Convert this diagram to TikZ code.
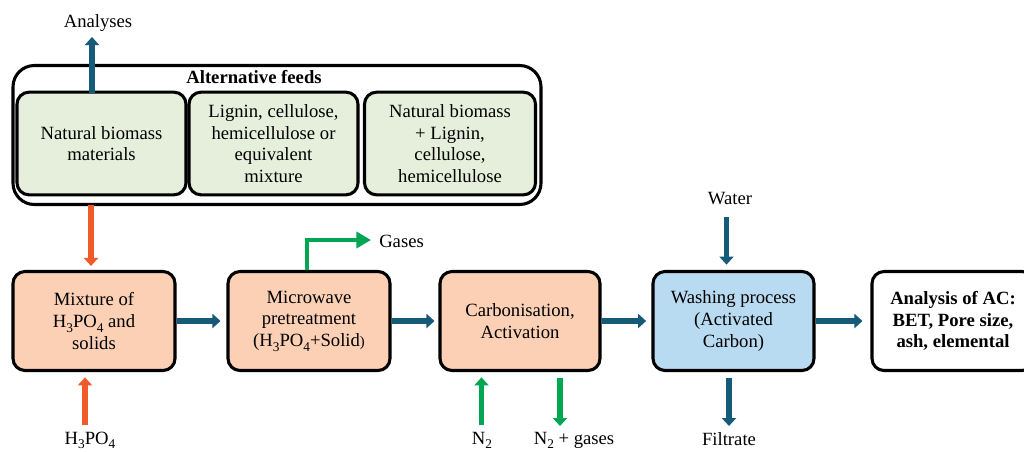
\documentclass[tikz,border=0pt]{standalone}
\usepackage{fontspec}
\setmainfont{Liberation Serif}
\usetikzlibrary{arrows.meta}
\definecolor{bluearr}{HTML}{165A7A}
\definecolor{orarr}{HTML}{F15A29}
\definecolor{grarr}{HTML}{00A651}
\definecolor{peach}{HTML}{FBD0B5}
\definecolor{lgreen}{HTML}{E6EFDC}
\definecolor{lblue}{HTML}{B9DBF1}
\newcommand{\lsub}[1]{\raisebox{-0.55ex}{\fontsize{10}{10}\selectfont #1}}
\begin{document}
\begin{tikzpicture}[x=0.75pt,y=-0.75pt,
  font=\fontsize{14}{16.2}\selectfont,
  every node/.style={inner sep=0pt},
  procbox/.style={draw, line width=2.3pt, rounded corners=9pt, align=center,
    minimum height=75pt},
  feedbox/.style={draw, line width=2.3pt, rounded corners=9pt, align=center,
    fill=lgreen, minimum height=77pt},
  outerbox/.style={draw, line width=2.3pt, rounded corners=16pt},
  lbl/.style={inner sep=0pt},
  arr/.style={line width=3.8pt, -{Triangle[length=6pt,width=10.5pt]}},
  barrow/.style={arr, draw=bluearr, color=bluearr},
  oarrow/.style={arr, draw=orarr, color=orarr},
  garrow/.style={arr, draw=grarr, color=grarr},
  gbig/.style={line width=3.2pt, draw=grarr, color=grarr, -{Triangle[length=11pt,width=12pt]}}
]
\useasboundingbox (0,0) rectangle (1024,451);
\clip (0,0) rectangle (1024,451);

% alternative feeds group
\node[outerbox, minimum width=528*0.75pt, minimum height=139*0.75pt] (alt) at (277,135) {};
\node[font=\fontsize{14}{16.2}\selectfont\bfseries] (altt) at (254,77) {Alternative feeds};
\node[feedbox, minimum width=169*0.75pt] (f1) at (101.5,143.5) {Natural biomass\\materials};
\node[feedbox, minimum width=169*0.75pt] (f2) at (273.5,143.5) {Lignin, cellulose,\\hemicellulose or\\equivalent\\mixture};
\node[feedbox, minimum width=171*0.75pt] (f3) at (450,143.5) {Natural biomass\\+ Lignin,\\cellulose,\\hemicellulose};

% process row
\node[procbox, fill=peach, minimum width=162*0.75pt, minimum height=99*0.75pt] (mix) at (94,321) {Mixture of\\H\lsub{3}PO\lsub{4} and\\solids};
\node[procbox, fill=peach, minimum width=162*0.75pt, minimum height=99*0.75pt] (micro) at (309,321) {Microwave\\pretreatment\\(H\lsub{3}PO\lsub{4}+Solid{\fontsize{11}{12}\selectfont)}};
\node[procbox, fill=peach, minimum width=160*0.75pt, minimum height=99*0.75pt] (carb) at (520,321) {Carbonisation,\\Activation};
\node[procbox, fill=lblue, minimum width=161*0.75pt, minimum height=99*0.75pt] (wash) at (733.5,321) {Washing process\\(Activated\\Carbon)};
\node[procbox, fill=white, minimum width=162*0.75pt, minimum height=99*0.75pt,
  font=\fontsize{14}{16.2}\selectfont\bfseries] (anal) at (953,321) {Analysis of AC:\\BET, Pore size,\\ash, elemental};

% labels
\node[lbl] (analyses) at (98,23) {Analyses};
\node[lbl, anchor=west] (gases) at (379,241) {Gases};
\node[lbl] (water) at (730,199) {Water};
\node[lbl, anchor=base] (h3po4) at (90,444) {H\lsub{3}PO\lsub{4}};
\node[lbl, anchor=base] (n2) at (482,444) {N\lsub{2}};
\node[lbl, anchor=base] (n2g) at (574,444) {N\lsub{2} + gases};
\node[lbl, anchor=base] (filt) at (729,445) {Filtrate};

% free ends
\coordinate (a0) at (92,93);
\coordinate (a1) at (92,37);
\coordinate (o0) at (91,205);
\coordinate (g0) at (307,240);
\coordinate (h0) at (85,425);
\coordinate (n0) at (481.5,425);
\coordinate (ng0) at (560,378);
\coordinate (ng1) at (560,426);
\coordinate (w0) at (726.5,217);
\coordinate (fl0) at (729,378);
\coordinate (fl1) at (729,426);

% connectors
\draw[barrow] (a0) -- (a1);
\draw[oarrow, shorten >=3pt] (o0) -- (o0 |- mix.north);
\draw[oarrow, shorten >=4pt] (h0) -- (h0 |- mix.south);
\draw[barrow, shorten >=4.5pt] (mix.east) -- (micro.west);
\draw[barrow, shorten >=3pt] (micro.east) -- (carb.west);
\draw[barrow, shorten >=4pt] (carb.east) -- (wash.west);
\draw[barrow, shorten >=6pt] (wash.east) -- (anal.west);
\draw[gbig, shorten >=6pt] (g0 |- micro.north) -- (g0) -- (g0 -| gases.west);
\draw[garrow, shorten >=4pt] (n0) -- (n0 |- carb.south);
\draw[garrow] (ng0) -- (ng1);
\draw[barrow, shorten >=4pt] (w0) -- (w0 |- wash.north);
\draw[barrow] (fl0) -- (fl1);
\end{tikzpicture}
\end{document}
